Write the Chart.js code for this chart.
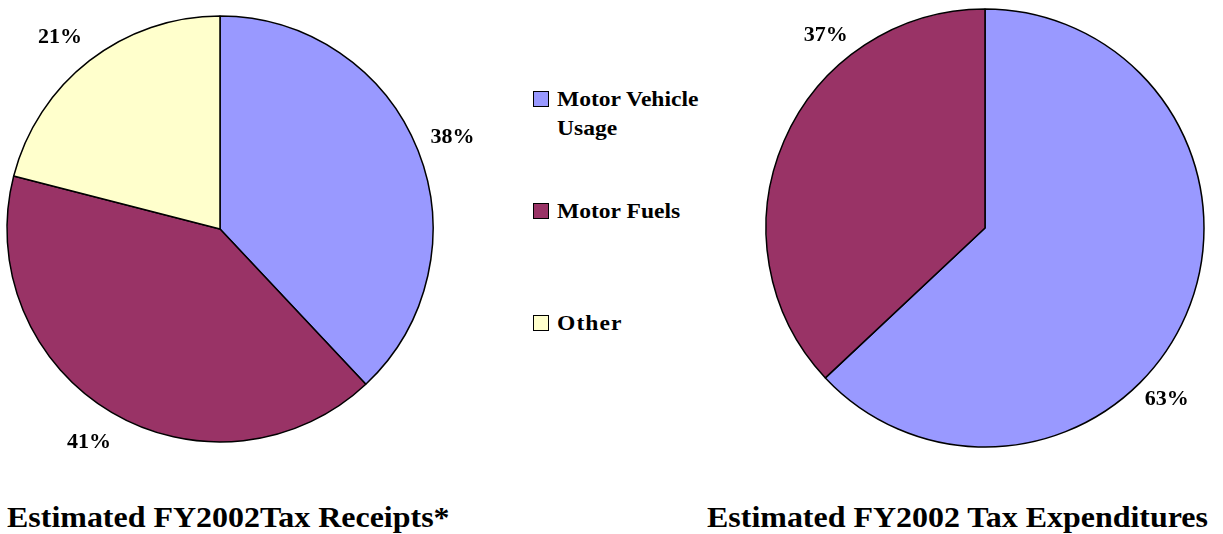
<!DOCTYPE html>
<html>
<head>
<meta charset="utf-8">
<script src="https://cdn.jsdelivr.net/npm/chart.js@4/dist/chart.umd.min.js"></script>
<style>
  html, body { margin: 0; padding: 0; background: #fff; width: 1223px; height: 534px; overflow: hidden; position: relative; }
  .wrap { position: absolute; }
  .title { position: absolute; font-family: "Liberation Serif", "DejaVu Serif", serif; font-weight: bold; font-size: 30px; color: #000; white-space: nowrap; line-height: 1; transform: scaleX(1.065); transform-origin: 0 0; }
  .leg { position: absolute; font-family: "Liberation Serif", "DejaVu Serif", serif; font-weight: bold; font-size: 22px; color: #000; line-height: 29px; white-space: nowrap; transform: scaleX(1.07); transform-origin: 0 0; }
  .sw { position: absolute; width: 14px; height: 14px; border: 1.5px solid #000; }
</style>
</head>
<body>
<div class="wrap" style="left:-40px; top:0; width:520px; height:458px;"><canvas id="c1"></canvas></div>
<div class="wrap" style="left:745px; top:1px; width:480px; height:454px;"><canvas id="c2"></canvas></div>
<div id="legend"></div>
<div class="title" style="left:7px; top:502px;">Estimated FY2002Tax Receipts*</div>
<div class="title" style="left:707px; top:502px;">Estimated FY2002 Tax Expenditures</div>
<script>
// ---- data ----
const receiptCategories = ["Motor Vehicle Usage", "Motor Fuels", "Other"];
const receiptValues = [38, 41, 21];
const expenditureCategories = ["Motor Vehicle Usage", "Motor Fuels"];
const expenditureValues = [63, 37];
const legendLabels = [["Motor Vehicle", "Usage"], ["Motor Fuels"], ["Other"]];

// ---- styles ----
const colors = ["#9999FF", "#993366", "#FFFFCC"];
const serif = '"Liberation Serif", "DejaVu Serif", serif';

const labelPlugin = {
  id: 'pctLabels',
  afterDatasetsDraw(chart, args, opts) {
    const ctx = chart.ctx;
    const meta = chart.getDatasetMeta(0);
    const data = chart.data.datasets[0].data;
    ctx.save();
    ctx.font = 'bold 22px ' + serif;
    ctx.fillStyle = '#000';
    ctx.textAlign = 'center';
    ctx.textBaseline = 'middle';
    meta.data.forEach((arc, i) => {
      const p = arc.getProps(['x', 'y', 'startAngle', 'endAngle', 'outerRadius'], true);
      const shift = (opts.shifts && opts.shifts[i]) ? opts.shifts[i] * Math.PI / 180 : 0;
      const mid = (p.startAngle + p.endAngle) / 2 + shift;
      const r = p.outerRadius + opts.offset;
      ctx.fillText(data[i] + '%', p.x + Math.cos(mid) * r, p.y + Math.sin(mid) * r);
    });
    ctx.restore();
  }
};

function makePie(id, labels, values, radius, offset, shifts) {
  return new Chart(document.getElementById(id), {
    type: 'pie',
    data: {
      labels: labels,
      datasets: [{
        data: values,
        backgroundColor: colors.slice(0, values.length),
        borderColor: '#000',
        borderWidth: 1.5,
        hoverOffset: 0
      }]
    },
    options: {
      responsive: true,
      maintainAspectRatio: false,
      animation: false,
      radius: radius,
      layout: { padding: 0 },
      plugins: {
        legend: { display: false },
        tooltip: { enabled: false },
        pctLabels: { offset: offset, shifts: shifts }
      }
    },
    plugins: [labelPlugin]
  });
}

makePie('c1', receiptCategories, receiptValues, 213, 37, [0, 1, -2]);
makePie('c2', expenditureCategories, expenditureValues, 219, 31, [20, 27]);

// ---- legend ----
const legendTops = [84, 196, 308];
const legend = document.getElementById('legend');
legendLabels.forEach((lines, i) => {
  const sw = document.createElement('div');
  sw.className = 'sw';
  sw.style.left = '533px';
  sw.style.top = (legendTops[i] + 7) + 'px';
  sw.style.background = colors[i];
  legend.appendChild(sw);
  const t = document.createElement('div');
  t.className = 'leg';
  t.style.left = '557px';
  t.style.top = legendTops[i] + 'px';
  t.innerHTML = lines.join('<br>');
  if (lines[0] === 'Other') t.style.letterSpacing = '1px';
  legend.appendChild(t);
});
</script>
</body>
</html>
